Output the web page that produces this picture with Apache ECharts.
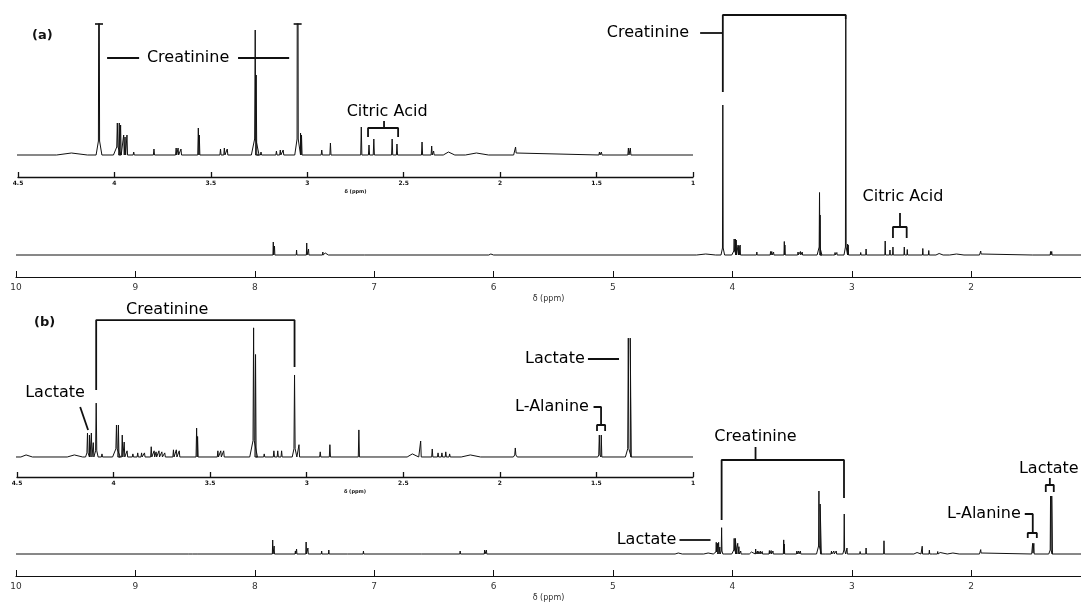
<!DOCTYPE html>
<html><head><meta charset="utf-8">
<script src="https://cdn.jsdelivr.net/npm/echarts@6/dist/echarts.min.js"></script>
<style>html,body{margin:0;padding:0;background:#fff}#c{width:1081px;height:604px}</style>
</head><body><div id="c"></div>
<script>
// ---------- DATA ----------
// Chemical-shift axis ticks (ppm) and visible ranges
const mainTicks = [10, 9, 8, 7, 6, 5, 4, 3, 2];
const mainRange = [1.08, 10];
const insetTicks = [4.5, 4, 3.5, 3, 2.5, 2, 1.5, 1];
const insetRange = [1, 4.5];
const axisTitle = 'δ (ppm)';

// Peak lists: [ppm, height, footHeight, footHalfWidth]
// (a) sample
const peaksA = [
  [7.845,13],[7.835,9],[7.65,5],[7.565,12],[7.55,6],[7.43,3],[7.41,2],[7.38,2],[7.08,2],[6.02,1,1,0.02],
  [4.22,1,1,0.08],
  [4.08,150,7,0.015],
  [3.985,16,4,0.02],[3.975,16],[3.968,15],
  [3.952,10],[3.945,9],[3.935,10],
  [3.90,1.5],[3.795,3],
  [3.68,3.5],[3.67,3.5],[3.655,3],
  [3.565,13.5],[3.56,10],
  [3.45,3],[3.43,3.5],[3.415,3],
  [3.27,62.5,8,0.02],[3.265,40],
  [3.24,1.5],
  [3.16,2],[3.14,2.5],[3.125,2.5],
  [3.05,236,8,0.015],[3.035,11],[3.03,10],
  [2.925,2.5],[2.88,6],[2.72,14],
  [2.68,5],[2.655,8],[2.56,8],[2.535,5.5],
  [2.405,6.5],[2.355,4.5],[2.345,2],
  [2.265,1.5,1.5,0.03],[2.12,1,1,0.06],
  [1.92,4,1,0.01],
  [1.485,1.5],[1.475,1.5],[1.335,3.5],[1.325,3.5]
];
// (b) sample
const peaksB = [
  [8.55,1],[8.52,1],[8.48,1],
  [7.85,14],[7.838,8],[7.66,3],[7.65,5],[7.57,12],[7.555,6],
  [7.44,3],[7.38,4],[7.30,2],[7.22,2],[7.09,3],
  [6.60,2],[6.28,3],[6.075,4],[6.06,4],
  [4.45,1,1,0.03],[4.20,1,1,0.04],
  [4.135,11.7,2,0.01],[4.125,10.7],[4.115,11.7],[4.105,7],
  [4.09,26.3,3,0.01],[4.06,1.5],
  [3.985,15.6,4,0.02],[3.975,15.6],[3.955,10.7],[3.945,7.3],[3.93,3],
  [3.90,1.5],[3.875,2],[3.855,2],[3.84,2],
  [3.805,5],[3.79,3],[3.78,2.5],[3.765,3],[3.75,2.5],[3.735,2],
  [3.69,3.5],[3.675,3.5],[3.66,3],
  [3.57,14.1],[3.565,10],
  [3.46,3],[3.445,3],[3.43,3],
  [3.275,63,8,0.02],[3.265,50],
  [3.22,1.5],[3.17,3],[3.15,3],[3.13,3],
  [3.063,40,4,0.012],[3.04,6],
  [2.93,2.5],[2.88,6],[2.73,13.2],
  [2.45,1.5,1.5,0.03],[2.41,7.8],[2.35,3.9],[2.32,2],[2.30,2],[2.28,2.5],[2.26,1.5],
  [2.15,1,1,0.05],[1.92,4.4,1,0.01],
  [1.485,10.7,1,0.008],[1.475,10.7],
  [1.335,58,4,0.015],[1.325,58]
];

// Annotations (anchored in ppm / intensity units of each panel)
const annA_main = {
  texts: [['Creatinine', 4.707, 222], ['Citric Acid', 2.571, 58]],
  lines: [
    [[4.08,163],[4.08,240],[3.05,240],[3.05,236]],
    [[4.27,222],[4.08,222]],
    [[2.596,42],[2.596,28]],
    [[2.655,17],[2.655,28],[2.54,28],[2.54,17]]
  ]
};
const annA_inset = {
  texts: [['Creatinine', 3.618, 48.5], ['Citric Acid', 2.586, 21.5]],
  lines: [
    [[4.038,48.5],[3.872,48.5]],
    [[3.359,48.5],[3.094,48.5]],
    [[2.602,17],[2.602,13.5]],
    [[2.685,9],[2.685,13.5],[2.529,13.5],[2.529,9]]
  ]
};
const annB_main = {
  texts: [['Creatinine', 3.806, 117], ['Lactate', 4.719, 14], ['L-Alanine', 1.894, 40], ['Lactate', 1.35, 85]],
  lines: [
    [[3.806,107],[3.806,94]],
    [[4.09,34],[4.09,94],[3.065,94],[3.065,56]],
    [[4.443,14],[4.183,14]],
    [[1.551,40],[1.484,40],[1.484,21]],
    [[1.526,16],[1.526,21],[1.45,21],[1.45,16]],
    [[1.341,76],[1.341,69]],
    [[1.375,62],[1.375,69],[1.308,69],[1.308,62]]
  ]
};
const annB_inset = {
  texts: [['Creatinine', 3.722, 71.7], ['Lactate', 4.303, 31.2], ['L-Alanine', 1.73, 24.4], ['Lactate', 1.715, 47.8]],
  lines: [
    [[4.09,32.7],[4.09,66.8],[3.063,66.8],[3.063,43.9]],
    [[4.173,24.4],[4.132,13.2]],
    [[1.515,24.4],[1.476,24.4],[1.476,15.6]],
    [[1.497,12.7],[1.497,15.6],[1.455,15.6],[1.455,12.7]],
    [[1.544,47.8],[1.383,47.8]]
  ]
};

// ---------- CHART ----------
const FONT = 'DejaVu Sans';
const INK = '#111';

function spectrum(peaks, lo, hi) {
  const sorted = peaks.slice().sort((a, b) => b[0] - a[0]);
  const pts = [[hi, 0]];
  for (const pk of sorted) {
    const p = pk[0], h = pk[1], f = pk[2] || 0, fw = pk[3] || 0.003;
    if (f > 0) {
      pts.push([p + fw, 0], [p + 0.003, f], [p, h], [p - 0.003, f], [p - fw, 0]);
    } else {
      pts.push([p + fw, 0], [p, h], [p - fw, 0]);
    }
  }
  pts.push([lo, 0]);
  return pts;
}

const grids = [
  { left: 16, right: 0, top: 15, bottom: 327 },     // 0 main (a)
  { left: 18, right: 388, top: 24, bottom: 427 },   // 1 inset (a)
  { left: 16, right: 0, top: 454, bottom: 28 },     // 2 main (b)
  { left: 17, right: 388, top: 320, bottom: 127 }   // 3 inset (b)
];
const yRanges = [[-22, 240], [-11, 65.5], [-22, 100], [-9.76, 66.83]];

function mainX(gi) {
  return {
    gridIndex: gi, type: 'value', inverse: true,
    min: mainRange[0], max: mainRange[1],
    axisLine: { show: true, onZero: false, lineStyle: { color: INK, width: 1.2 } },
    axisTick: { show: true, inside: true, length: 6, customValues: mainTicks, lineStyle: { color: INK, width: 1 } },
    axisLabel: { fontSize: 9, color: '#333', margin: 6, fontFamily: FONT, customValues: mainTicks },
    splitLine: { show: false },
    name: axisTitle, nameLocation: 'middle', nameGap: 18,
    nameTextStyle: { fontSize: 8, color: '#333', fontFamily: FONT }
  };
}
function insetX(gi) {
  return {
    gridIndex: gi, type: 'value', inverse: true,
    min: insetRange[0], max: insetRange[1], interval: 0.5,
    axisLine: { show: true, onZero: false, lineStyle: { color: INK, width: 1.3 } },
    axisTick: { show: true, inside: true, length: 5, lineStyle: { color: INK, width: 1.3 } },
    axisLabel: { fontSize: 6, color: INK, fontWeight: 'bold', margin: 3, fontFamily: FONT },
    splitLine: { show: false },
    name: axisTitle, nameLocation: 'middle', nameGap: 12,
    nameTextStyle: { fontSize: 5, color: INK, fontWeight: 'bold', fontFamily: FONT }
  };
}

const series = [];
function addSpectrum(gi, peaks) {
  series.push({
    type: 'line', xAxisIndex: gi, yAxisIndex: gi, data: spectrum(peaks, 1, 10),
    symbol: 'none', showSymbol: false, clip: true, silent: true, animation: false,
    lineStyle: { color: INK, width: 1 }, z: 2
  });
}
function addAnnotations(gi, ann) {
  ann.lines.forEach(poly => {
    series.push({
      type: 'line', xAxisIndex: gi, yAxisIndex: gi, data: poly,
      symbol: 'none', showSymbol: false, clip: false, silent: true, animation: false,
      lineStyle: { color: INK, width: 1.8 }, z: 5
    });
  });
  series.push({
    type: 'scatter', xAxisIndex: gi, yAxisIndex: gi, clip: false, silent: true, animation: false,
    symbolSize: 1, itemStyle: { color: 'rgba(0,0,0,0)' },
    data: ann.texts.map(t => ({ name: t[0], value: [t[1], t[2]] })),
    label: { show: true, position: 'inside', formatter: '{b}', fontSize: 16, fontFamily: FONT,
             color: '#000', textBorderWidth: 0, opacity: 1 },
    z: 6
  });
}

addSpectrum(0, peaksA);
addSpectrum(1, peaksA);
addSpectrum(2, peaksB);
addSpectrum(3, peaksB);

// caps on peaks truncated in inset (a)
const capsA = peaksA.filter(p => p[1] > yRanges[1][1] && p[0] <= insetRange[1]).map(p => [p[0], yRanges[1][1]]);
series.push({
  type: 'scatter', xAxisIndex: 1, yAxisIndex: 1, data: capsA, clip: false, silent: true, animation: false,
  symbol: 'rect', symbolSize: [8, 2], itemStyle: { color: INK }, z: 4
});

addAnnotations(0, annA_main);
addAnnotations(1, annA_inset);
addAnnotations(2, annB_main);
addAnnotations(3, annB_inset);

const option = {
  backgroundColor: '#fff',
  animation: false,
  title: [
    { text: '(a)', left: 27, top: 24, textStyle: { fontSize: 13, fontWeight: 'bold', color: INK, fontFamily: FONT } },
    { text: '(b)', left: 29, top: 311, textStyle: { fontSize: 13, fontWeight: 'bold', color: INK, fontFamily: FONT } }
  ],
  grid: grids,
  xAxis: [mainX(0), insetX(1), mainX(2), insetX(3)],
  yAxis: yRanges.map((r, i) => ({ gridIndex: i, type: 'value', min: r[0], max: r[1], show: false })),
  series: series
};

const chart = echarts.init(document.getElementById('c'), null, { renderer: 'canvas' });
chart.setOption(option);
</script>
</body></html>
